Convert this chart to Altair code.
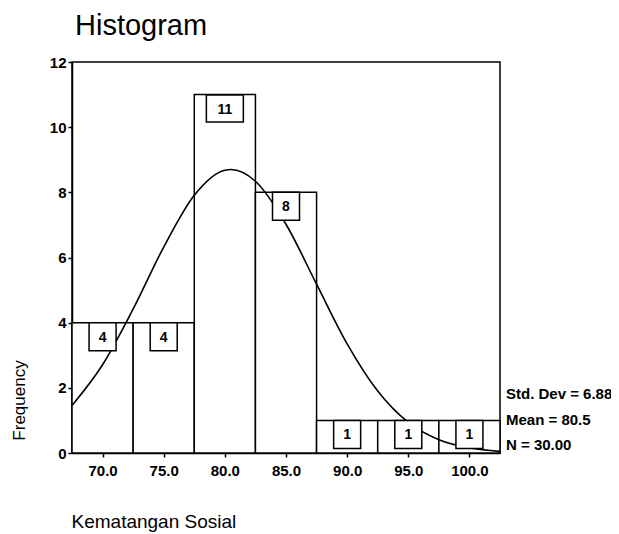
import altair as alt
import pandas as pd

# ---- data ----
bin_start = [67.5, 72.5, 77.5, 82.5, 87.5, 92.5, 97.5]
bin_end = [72.5, 77.5, 82.5, 87.5, 92.5, 97.5, 102.5]
bin_mid = [70.0, 75.0, 80.0, 85.0, 90.0, 95.0, 100.0]
frequency = [4, 4, 11, 8, 1, 1, 1]

curve_x = [67.5, 70.0, 72.5, 75.0, 77.5, 80.0, 80.5, 82.5, 85.0, 87.5,
           90.0, 92.5, 95.0, 97.5, 100.0, 102.5]
curve_y = [1.46, 2.71, 4.42, 6.32, 7.91, 8.68, 8.70, 8.34, 7.02, 5.18,
           3.35, 1.90, 0.94, 0.41, 0.16, 0.05]

chart_title = "Histogram"
stats_lines = ["Std. Dev = 6.88", "Mean = 80.5", "N = 30.00"]
x_ticks = [70.0, 75.0, 80.0, 85.0, 90.0, 95.0, 100.0]
y_ticks = [0, 2, 4, 6, 8, 10, 12]
x_domain = [67.5, 102.5]
y_domain = [0, 12]

# ---- layout ----
W, H = 428, 391
FONT = "Liberation Sans"

bars_df = pd.DataFrame({"lo": bin_start, "hi": bin_end, "mid": bin_mid,
                        "freq": frequency,
                        "label": [str(v) for v in frequency]})
curve_df = pd.DataFrame({"x": curve_x, "y": curve_y})

x_scale = alt.Scale(domain=x_domain, nice=False, zero=False)
y_scale = alt.Scale(domain=y_domain, nice=False)

x_axis = alt.Axis(values=x_ticks, format=".1f", title="Kematangan Sosial",
                  labelFont=FONT, labelFontSize=15, labelFontWeight="bold",
                  labelColor="black", tickColor="black", tickSize=4,
                  tickWidth=1.5, domainColor="black", domainWidth=1.5,
                  grid=False, labelPadding=6, labelFlush=False,
                  titleFont=FONT, titleFontSize=19, titleFontWeight="normal",
                  titleColor="black", titleAnchor="start", titleAlign="left",
                  titleX=-1, titleY=74, titleBaseline="alphabetic")
y_axis = alt.Axis(values=y_ticks, format="d", title="Frequency",
                  labelFont=FONT, labelFontSize=15, labelFontWeight="bold",
                  labelColor="black", tickColor="black", tickSize=4,
                  tickWidth=1.5, domainColor="black", domainWidth=1.5,
                  grid=False, labelPadding=2, labelFlush=False,
                  titleFont=FONT, titleFontSize=17, titleFontWeight="normal",
                  titleColor="black", titleAlign="center", titleX=-48,
                  titleY=338, titleBaseline="alphabetic", titleAngle=270)

base = alt.Chart(bars_df)

bars = base.mark_rect(fill="white", stroke="black", strokeWidth=1.5).encode(
    x=alt.X("lo:Q", scale=x_scale, axis=x_axis),
    x2="hi:Q",
    y=alt.Y("freq:Q", scale=y_scale, axis=y_axis),
    y2=alt.datum(0),
)

curve = alt.Chart(curve_df).mark_line(
    color="black", strokeWidth=1.6, interpolate="monotone").encode(
    x=alt.X("x:Q", scale=x_scale),
    y=alt.Y("y:Q", scale=y_scale),
)

box_small = base.transform_filter("datum.freq < 10").mark_rect(
    width=27, height=28, fill="white", stroke="black", strokeWidth=1.5,
    yOffset=14).encode(x=alt.X("mid:Q", scale=x_scale),
                       y=alt.Y("freq:Q", scale=y_scale))
box_big = base.transform_filter("datum.freq >= 10").mark_rect(
    width=37, height=27, fill="white", stroke="black", strokeWidth=1.5,
    yOffset=14).encode(x=alt.X("mid:Q", scale=x_scale),
                       y=alt.Y("freq:Q", scale=y_scale))
box_text = base.mark_text(font=FONT, fontSize=14, fontWeight="bold",
                          color="black", baseline="middle", align="center",
                          yOffset=15).encode(
    x=alt.X("mid:Q", scale=x_scale),
    y=alt.Y("freq:Q", scale=y_scale),
    text="label:N",
)

stats_layers = []
for i, line in enumerate(stats_lines):
    stats_layers.append(
        alt.Chart(pd.DataFrame({"t": [line]})).mark_text(
            font=FONT, fontSize=15, fontWeight="bold", color="black",
            align="left", baseline="alphabetic").encode(
            x=alt.value(W + 6), y=alt.value(337 + i * 25.5), text="t:N")
    )

title_layer = alt.Chart(pd.DataFrame({"t": [chart_title]})).mark_text(
    font=FONT, fontSize=29, fontWeight="normal", color="black",
    align="left", baseline="alphabetic").encode(
    x=alt.value(3), y=alt.value(-27), text="t:N")

chart = alt.layer(bars, curve, box_small, box_big, box_text, title_layer,
                  *stats_layers).properties(
    width=W, height=H,
    autosize=alt.AutoSizeParams(type="none"),
    padding={"left": 64, "top": 54, "right": 111, "bottom": 80},
    background="white",
).configure_view(stroke="black", strokeWidth=1.5)

chart.save("out.html", embed_options={"renderer": "svg", "actions": False})
